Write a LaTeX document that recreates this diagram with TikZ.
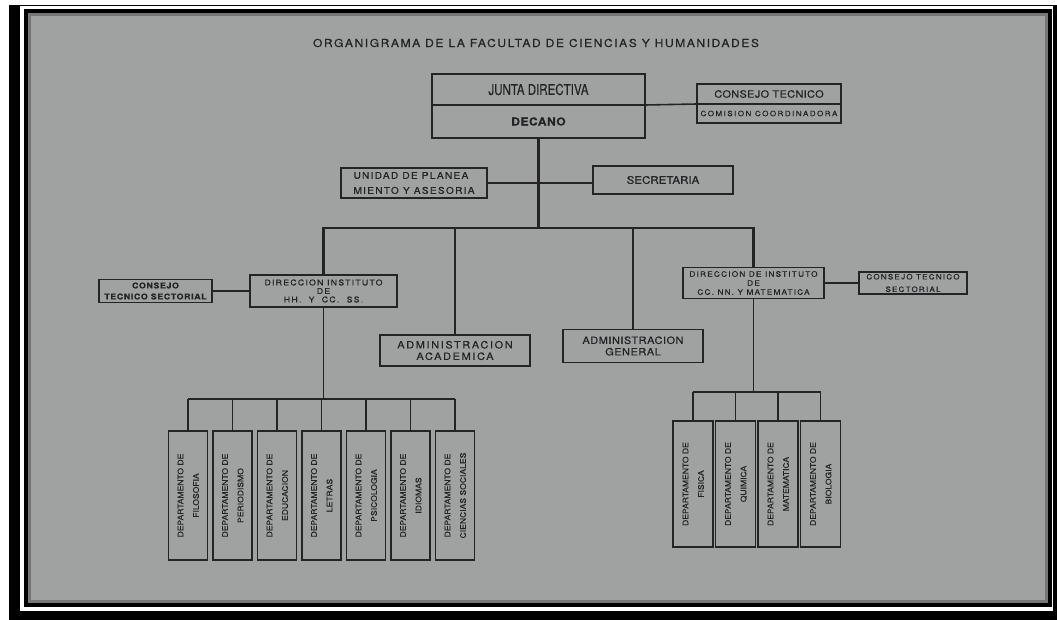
\documentclass[tikz,border=0pt]{standalone}
\usepackage{fontspec}
\setmainfont[FakeStretch=1.1,FakeBold=0.5]{TeX Gyre Heros}
\newfontfamily\narrowfont[FakeStretch=0.77,FakeBold=0.3]{TeX Gyre Heros}
\usetikzlibrary{positioning}
\definecolor{paper}{RGB}{160,162,162}
\definecolor{ink}{RGB}{36,36,38}
\newcommand{\dept}[2]{\rotatebox{90}{\renewcommand{\arraystretch}{1.55}\begin{tabular}{@{}c@{}}#1\\#2\end{tabular}}}

\begin{document}
\begin{tikzpicture}[x=1pt,y=-1pt,line join=miter,node distance=44.5pt,
                    box/.style={draw=ink,line width=1.4pt,text=ink,inner sep=0pt,outer sep=0pt,align=center},
                    wire/.style={draw=ink,line width=1.6pt},
                    trunk/.style={draw=ink,line width=2.5pt},
                    deptbox/.style={box,minimum width=39pt,minimum height=129pt,
                                    font=\fontsize{7.8}{10}\selectfont}]
	\useasboundingbox (0,0) rectangle (1057,620);
	% photo frame
	\fill[white] (0,0) rectangle (1057,620);
	\fill[black] (9,5) rectangle (20,620);
	\fill[black] (9,611) rectangle (1057,620);
	\fill[black] (20,5) rectangle (1057,6.5);
	\fill[black] (1053,5) rectangle (1057,620);
	\draw[line width=4pt,fill=paper] (26,11) rectangle (1050,605);
	\draw[black!70,line width=3pt,opacity=0.5] (29.5,14.5) rectangle (1046.5,601.5);
	% top
	\node[text=ink,font=\fontsize{11}{12}\selectfont\addfontfeatures{LetterSpace=14}] (title) at (536,43)
		{ORGANIGRAMA DE LA FACULTAD DE CIENCIAS Y HUMANIDADES};
	\node[box,minimum width=213pt,minimum height=31pt,font=\narrowfont\fontsize{15}{17}\selectfont] (junta) at (538.5,89.5) {JUNTA DIRECTIVA};
	\node[box,minimum width=213pt,minimum height=33pt,font=\bfseries\fontsize{11}{13}\selectfont\addfontfeatures{LetterSpace=4},
	      below=0pt of junta] (decano) {DECANO};
	\node[box,minimum width=144pt,minimum height=20pt,font=\fontsize{10}{12}\selectfont\addfontfeatures{LetterSpace=3}] (cons) at (769,94) {CONSEJO TECNICO};
	\node[box,minimum width=144pt,minimum height=19pt,font=\fontsize{7.3}{9}\selectfont\addfontfeatures{LetterSpace=20},
	      below=0pt of cons] (comi) {COMISION COORDINADORA};
	\node[box,minimum width=146pt,minimum height=30pt,align=left,font=\fontsize{9.3}{15}\selectfont\addfontfeatures{LetterSpace=13}]
		(unidad) at (414,183) {UNIDAD DE PLANEA\\MIENTO Y ASESORIA};
	\node[box,minimum width=140pt,minimum height=28pt,font=\fontsize{10.5}{13}\selectfont] (secre) at (663,180) {SECRETARIA};
	% institutes
	\node[box,minimum width=147pt,minimum height=32pt,font=\fontsize{8}{8.5}\selectfont\addfontfeatures{LetterSpace=15}]
		(dirhh) at (323.5,291) {DIRECCION INSTITUTO\\DE\\HH.\ \ Y\ \ CC.\ \ SS.};
	\node[box,minimum width=113pt,minimum height=23pt,font=\bfseries\fontsize{8}{11}\selectfont\addfontfeatures{LetterSpace=8}]
		(csl) at (155.5,291) {CONSEJO\\TECNICO SECTORIAL};
	\node[box,minimum width=141pt,minimum height=31pt,font=\fontsize{7.5}{9}\selectfont\addfontfeatures{LetterSpace=16}]
		(dircc) at (753.5,283) {DIRECCION DE INSTITUTO\\DE\\CC. NN. Y MATEMATICA};
	\node[box,minimum width=108pt,minimum height=22pt,font=\fontsize{7.3}{12.5}\selectfont\addfontfeatures{LetterSpace=17}]
		(csr) at (913,283) {CONSEJO TECNICO\\SECTORIAL};
	\node[box,minimum width=150pt,minimum height=31pt,font=\fontsize{10}{11.5}\selectfont\addfontfeatures{LetterSpace=16}]
		(admac) at (455,350.5) {ADMINISTRACION\\ACADEMICA};
	\node[box,minimum width=140pt,minimum height=33pt,font=\fontsize{10}{11.5}\selectfont\addfontfeatures{LetterSpace=5}]
		(admgen) at (633,346) {ADMINISTRACION\\GENERAL};
	% departments
	\node[deptbox]              (d1) at (188,495.5) {\dept{DEPARTAMENTO DE}{FILOSOFIA}};
	\node[deptbox,right of=d1] (d2) {\dept{DEPARTAMENTO DE}{PERIODISMO}};
	\node[deptbox,right of=d2] (d3) {\dept{DEPARTAMENTO DE}{EDUCACION}};
	\node[deptbox,right of=d3] (d4) {\dept{DEPARTAMENTO DE}{LETRAS}};
	\node[deptbox,right of=d4] (d5) {\dept{DEPARTAMENTO DE}{PSICOLOGIA}};
	\node[deptbox,right of=d5] (d6) {\dept{DEPARTAMENTO DE}{IDIOMAS}};
	\node[deptbox,right of=d6] (d7) {\dept{DEPARTAMENTO DE}{CIENCIAS SOCIALES}};
	\node[deptbox,minimum width=40pt,minimum height=126pt]                            (r1) at (693,484) {\dept{DEPARTAMENTO DE}{FISICA}};
	\node[deptbox,minimum width=40pt,minimum height=126pt,node distance=42.5pt,right of=r1] (r2) {\dept{DEPARTAMENTO DE}{QUIMICA}};
	\node[deptbox,minimum width=40pt,minimum height=126pt,node distance=42.5pt,right of=r2] (r3) {\dept{DEPARTAMENTO DE}{MATEMATICA}};
	\node[deptbox,minimum width=40pt,minimum height=126pt,node distance=42.5pt,right of=r3] (r4) {\dept{DEPARTAMENTO DE}{BIOLOGIA}};
	% connectors
	\coordinate (hub)  at (538.5,228);
	\coordinate (lhub) at (323.5,399);
	\coordinate (rhub) at (753.5,392);
	\draw[wire]  (junta.south east) -- (cons.south west);
	\draw[trunk] (decano) -- (hub);
	\draw[wire]  (unidad) -- (secre.west |- unidad.east);
	\draw[trunk] (dirhh.north) |- (hub) -| (dircc.north);
	\draw[wire]  (admac) -- (admac |- hub);
	\draw[wire]  (admgen) -- (admgen |- hub);
	\draw[wire]  (csl) -- (dirhh);
	\draw[wire]  (dircc) -- (csr);
	\draw[wire]  (dirhh) -- (lhub);
	\draw[wire]  (d1.north |- lhub) -- (d7.north |- lhub);
	\foreach \i in {1,...,7}
		\draw[wire] (d\i) -- (d\i |- lhub);
	\draw[wire]  (dircc) -- (rhub);
	\draw[wire]  (r1.north |- rhub) -- (r4.north |- rhub);
	\foreach \i in {1,...,4}
		\draw[wire] (r\i) -- (r\i |- rhub);
\end{tikzpicture}
\end{document}
